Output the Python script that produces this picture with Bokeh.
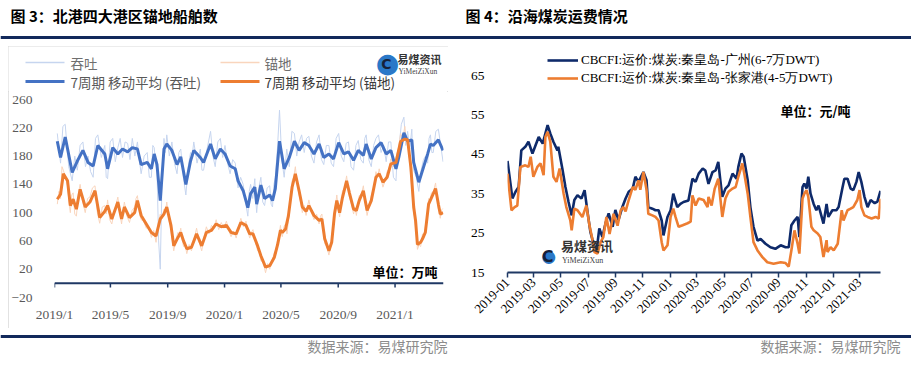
import math
import numpy as np
import pandas as pd
from bokeh.plotting import figure
from bokeh.layouts import column, row
from bokeh.models import Range1d, FixedTicker, Span, Legend, LegendItem, Label, Spacer
from bokeh.core.properties import value
from bokeh.embed import file_html
from bokeh.resources import INLINE

# ---------------- data: chart 3 (days since 2019-01-01) ----------------
tt_ma_day = [6,13,23,38,49,61,72,83,93,108,114,125,136,146,157,167,178,186,199,208,
             214,220,227,235,241,252,263,271,282,292,299,313,320,335,345,356,366,377,388,394,
             405,415,421,430,434,443,451,462,468,474,483,493,504,515,525,536,546,557,568,578,
             589,599,610,621,631,642,652,663,669,680,690,701,712,722,733,739,750,758,767,771,
             782,792,801,807,813,824,834]
tt_ma = [201,178,207,157,173,188,171,166,195,183,162,192,183,190,186,192,190,168,171,162,
         183,168,117,190,197,188,168,179,140,173,188,178,171,197,176,190,183,166,162,145,
         131,107,127,136,112,139,120,125,117,134,201,162,178,201,188,199,195,183,197,178,
         183,176,199,183,186,174,188,181,197,176,192,199,183,188,162,178,213,201,203,171,
         143,164,183,197,195,203,188]
tt_raw_at = [212,170,225,145,160,200,180,150,210,195,148,205,192,178,198,205,200,155,185,150,
             192,160,20,205,210,200,155,190,125,185,200,190,160,215,165,205,195,155,170,135,
             140,95,140,148,100,150,110,138,108,150,245,150,165,212,200,185,208,170,210,168,
             195,165,212,172,200,160,202,170,210,165,205,185,172,200,145,190,235,215,218,160,
             130,175,170,210,185,218,172]
tt_raw_mid = [190,222,165,180,195,165,158,205,178,150,200,172,205,200,175,180,175,180,150,195,
              170,60,150,185,180,170,185,150,165,180,170,160,190,180,200,178,170,175,150,150,
              115,130,120,118,135,115,135,112,140,190,175,190,215,180,210,205,180,200,175,195,
              170,205,180,198,165,195,175,205,175,195,210,195,200,150,185,225,195,190,180,150,
              160,180,205,185,215,195]

md_ma_day = [6,13,19,28,34,40,47,55,66,76,87,97,108,114,123,136,144,150,161,172,
             178,186,197,208,218,227,235,241,250,256,265,271,277,284,294,305,316,326,337,347,
             358,369,379,390,400,411,419,426,436,443,453,462,472,479,485,489,496,502,510,517,
             525,532,540,546,557,568,574,580,589,595,601,606,612,618,627,633,642,648,654,663,
             671,680,690,697,705,714,722,733,743,752,758,765,771,775,779,786,790,796,803,809,
             818,824,828,834]
md_ma = [119,126,155,145,110,119,105,133,108,115,131,93,102,110,91,115,91,108,93,100,
         117,96,84,72,67,91,98,108,82,53,65,72,60,49,51,70,53,72,75,84,
         80,82,72,70,86,82,70,70,53,39,23,25,37,55,75,72,77,95,136,155,
         131,108,102,110,96,89,91,63,46,58,98,117,100,121,145,128,105,103,117,131,
         103,117,150,155,143,150,169,171,201,204,203,164,108,89,55,58,63,72,112,121,
         134,112,98,100]
md_raw_at = [112,120,160,138,100,128,95,140,100,122,138,85,110,118,84,122,84,115,86,108,
             124,90,78,65,58,98,105,115,75,46,72,78,52,42,46,78,46,80,82,90,
             86,88,66,64,92,88,64,76,46,32,15,20,44,62,82,66,84,88,145,165,
             125,100,96,118,90,84,98,56,40,64,105,125,94,130,152,122,98,96,124,138,
             96,124,158,162,136,158,176,178,212,222,196,150,98,80,48,52,70,80,120,128,
             142,105,92,106]
md_raw_mid = [130,165,150,115,125,98,125,115,120,135,100,108,98,90,105,100,102,95,103,120,
              100,88,80,75,85,92,100,90,60,62,68,62,55,55,62,58,65,70,78,76,
              78,75,74,80,80,74,72,60,45,30,28,32,48,68,70,80,70,118,150,140,
              115,110,108,100,98,95,72,52,50,80,112,105,112,135,135,112,108,110,125,115,
              110,135,150,148,145,162,165,190,205,200,180,125,95,70,54,62,65,95,115,130,
              122,102,104]

left_series_names = ["吞吐", "锚地", "7周期 移动平均 (吞吐)", "7周期 移动平均 (锚地)"]
left_tick_dates = ["2019-01-01", "2019-05-01", "2019-09-01", "2020-01-01",
                   "2020-05-01", "2020-09-01", "2021-01-01"]
left_tick_labels = ["2019/1", "2019/5", "2019/9", "2020/1", "2020/5", "2020/9", "2021/1"]
left_y_ticks = [-20, 20, 60, 100, 140, 180, 220, 260]
left_x_span = ["2019-01-01", "2021-04-15"]

# ---------------- data: chart 4 ----------------
gz_day = [0,11,18,25,31,40,47,56,63,70,79,90,96,103,112,114,123,130,137,144,
          150,157,166,173,180,186,193,200,206,213,220,227,236,242,249,258,265,272,281,287,
          294,305,312,316,325,332,339,346,350,359,366,372,381,388,395,406,415,422,429,438,
          444,451,460,467,473,478,482,489,496,505,514,518,525,530,539,545,552,561,568,579,
          590,601,613,624,631,637,644,651,655,662,666,671,675,680,687,693,698,705,709,716,
          720,729,738,743,752,756,763,770,776,783,788,794,801,808,815,824,830,837]
gz_val = [43.3,33.8,35.5,36.7,46,46.9,48.2,45.2,47.3,49.4,47.7,52.4,50.3,48.2,46,46.9,41.4,36.7,32.9,29.5,
          33.4,34.6,33.8,35.9,30,25.3,22.3,20.6,26.2,24,27.5,30,26.6,30.9,28.3,31.7,33.8,35.5,36.3,39.3,
          38,40.5,38.4,31.6,31.2,30.8,30.8,28.2,24.4,29.1,30.8,35,31.6,32.4,32.9,33.3,38.8,38,40.1,41.4,
          40.9,37.5,40.5,40.9,43.1,38,34.2,36.3,37.1,40.1,38.8,41.8,45.2,44.4,38.4,31.6,26.6,23.1,23.5,22.3,
          21.4,21.0,21.9,21.4,21.4,27,28.2,29.1,24,36.7,37.6,36.3,39.3,35,32.4,30.8,32,29.1,27.4,32.4,
          29.1,30.8,30.8,31.6,36.7,38.8,38.8,36.3,35.9,38,40.5,38,34.2,31.6,33.4,32.6,33,35.7]
zjg_day = [0,9,16,22,29,40,47,52,58,67,74,81,85,90,96,103,110,117,126,132,
           141,144,150,157,168,177,184,191,195,202,209,215,222,229,238,247,254,260,265,272,
           281,287,294,298,305,312,316,325,332,339,346,350,359,366,372,377,384,393,404,411,
           415,422,429,440,449,451,458,465,473,478,482,489,496,505,512,518,527,532,539,545,
           552,561,572,583,597,613,624,631,637,644,651,655,662,666,671,675,682,687,696,702,
           709,716,718,725,732,741,750,754,763,770,776,785,790,794,801,808,817,826,833,837]
zjg_val = [40.1,30.8,31.6,32,41.8,42.2,41.8,44.4,39.3,41.8,42.7,39.7,49.4,50.7,48.2,39.3,38,41.4,35,31.6,
           28.2,25.7,31.2,30.8,29.1,32,26.9,23.2,20.2,19.8,22.7,24,29.1,24.8,29.9,26.9,30.8,31.6,30.5,33.4,
           36.7,36,38.4,36,40.5,36,29.9,29.5,29.1,28.2,22.7,20.6,21.9,29.1,31.2,29.1,26.6,27,27.5,27.9,
           34.6,32,33.8,33.4,31.6,34.2,32,36.3,38.8,33.4,29.1,33.8,35.5,36.3,36.7,39.3,42.7,39.7,35,29.1,
           22.7,20.6,18.9,17.6,17.2,17.6,17.4,16.5,20.6,25.7,22.3,19.8,33.8,35,35.9,34.2,26.6,25.7,24.9,24,
           18.9,23.2,20.2,21.4,20.6,22.3,30.8,28.2,30.8,31.2,31.6,33.4,35.9,31.6,29.5,29.1,28.7,29.1,28.7,33.7]

right_series_names = ["CBCFI:运价:煤炭:秦皇岛-广州(6-7万DWT)", "CBCFI:运价:煤炭:秦皇岛-张家港(4-5万DWT)"]
right_tick_dates = ["2019-01-01", "2019-03-01", "2019-05-01", "2019-07-01", "2019-09-01",
                    "2019-11-01", "2020-01-01", "2020-03-01", "2020-05-01", "2020-07-01",
                    "2020-09-01", "2020-11-01", "2021-01-01", "2021-03-01"]
right_tick_labels = [d[:7] for d in right_tick_dates]
right_y_ticks = [15, 25, 35, 45, 55, 65]
right_x_span = ["2019-01-01", "2021-04-17"]
right_y_span = [15, 71.35]

# ---------------- helpers ----------------
BASE = pd.Timestamp("2019-01-01")


def to_dt(days):
    return BASE + pd.to_timedelta(np.asarray(days, dtype=float), unit="D")


def to_ms(dates):
    return [pd.Timestamp(d).value / 1e6 for d in dates]


def interleave(days, at, mid):
    xs, ys = [], []
    for i in range(len(days)):
        xs.append(days[i]); ys.append(at[i])
        if i < len(days) - 1:
            xs.append((days[i] + days[i + 1]) / 2.0); ys.append(mid[i])
    return xs, ys


RULE = "#12295b"
AXIS_NAVY = "#1f3864"
SERIF = "Liberation Serif"
CJK = "Noto Sans CJK SC"
C_RAW_B, C_RAW_O, C_MA_B, C_MA_O = "#c6d5ef", "#f9d5bd", "#4472c4", "#ed7d31"


def clean(p):
    p.xgrid.visible = False
    p.ygrid.visible = False
    p.outline_line_color = None
    p.background_fill_color = "white"
    p.border_fill_color = "white"


def blank(w, h):
    p = figure(width=w, height=h, x_range=Range1d(0, w), y_range=Range1d(0, h),
               x_axis_location=None, y_axis_location=None, min_border=0,
               toolbar_location=None, output_backend="svg", frame_align=False)
    clean(p)
    return p


def add_logo_labels(p, x, y, icon_px, text_px, sub_px):
    kw = dict(x_units="screen", y_units="screen")
    p.add_layout(Label(x=x, y=y, text="●", text_color="#2a78c8",
                       text_font_size=f"{icon_px}px", text_align="center",
                       text_baseline="middle", **kw))
    p.add_layout(Label(x=x - 1, y=y - 1, text="C", text_color="#16213a",
                       text_font="DejaVu Sans", text_font_style="bold",
                       text_font_size=f"{int(icon_px * 0.55)}px",
                       text_align="center", text_baseline="middle", **kw))
    p.add_layout(Label(x=x + icon_px * 0.42, y=y + icon_px * 0.33, text="易煤资讯",
                       text_color="#333333", text_font=CJK, text_font_style="bold",
                       text_font_size=f"{text_px}px", text_baseline="middle", **kw))
    p.add_layout(Label(x=x + icon_px * 0.45, y=y - icon_px * 0.17, text="YiMeiZiXun",
                       text_color="#444444", text_font=SERIF, text_font_size=f"{sub_px}px",
                       text_baseline="middle", **kw))


# ---------------- header (y 0..46) ----------------
ph = blank(911, 46)
ph.text(x=[10, 465], y=[31, 31], text=["图 3：北港四大港区锚地船舶数", "图 4：沿海煤炭运费情况"],
        text_font=value(CJK), text_font_style="bold", text_font_size="15px",
        text_baseline="middle", text_color="#000000")
ph.segment(x0=[0], y0=[9], x1=[911], y1=[9], line_color=RULE, line_width=3)

# ---------------- left legend strip (x 8..448, y 46..91) ----------------
pk = blank(440, 45)
pk.segment(x0=[17, 212], y0=[29, 29], x1=[56, 251], y1=[29, 29],
           line_color=[C_RAW_B, C_RAW_O], line_width=1.3)
pk.segment(x0=[17, 212], y0=[10, 10], x1=[56, 251], y1=[10, 10],
           line_color=[C_MA_B, C_MA_O], line_width=3)
pk.text(x=[62, 256, 62, 256], y=[29, 29, 10, 10], text=left_series_names,
        text_font=value(CJK), text_font_size="13.5px", text_baseline="middle",
        text_color=["#6f6f6f", "#6f6f6f", "#595959", "#3a3a3a"])
pk.text(x=[379], y=[29], text=["●"], text_font=value("DejaVu Sans"), text_font_size="27px",
        text_align="center", text_baseline="middle", text_color="#2a78c8")
pk.text(x=[378], y=[28], text=["C"], text_font=value("DejaVu Sans"), text_font_style="bold",
        text_font_size="14px", text_align="center", text_baseline="middle", text_color="#16213a")
pk.text(x=[389], y=[33], text=["易煤资讯"], text_font=value(CJK), text_font_style="bold",
        text_font_size="11px", text_baseline="middle", text_color="#333333")
pk.text(x=[390], y=[20], text=["YiMeiZiXun"], text_font=value(SERIF),
        text_font_size="7.5px", text_baseline="middle", text_color="#444444")

# ---------------- left chart (x 8..448, y 91..328) ----------------
lx0, lx1 = to_ms(left_x_span)
pl = figure(width=440, height=237, x_axis_type="datetime",
            x_range=Range1d(lx0, lx1), y_range=Range1d(-20, 260),
            min_border_left=41, min_border_right=5, min_border_top=8, min_border_bottom=31,
            toolbar_location=None, output_backend="svg", frame_align=False)
clean(pl)

bx, by = interleave(tt_ma_day, tt_raw_at, tt_raw_mid)
ox, oy = interleave(md_ma_day, md_raw_at, md_raw_mid)
pl.line(to_dt(bx), by, line_color=C_RAW_B, line_width=1)
pl.line(to_dt(ox), oy, line_color=C_RAW_O, line_width=1)
pl.line(to_dt(tt_ma_day), tt_ma, line_color=C_MA_B, line_width=3)
pl.line(to_dt(md_ma_day), md_ma, line_color=C_MA_O, line_width=3)

left_tick_ms = to_ms(left_tick_dates)
left_tick_dt = pd.to_datetime(left_tick_dates)
pl.add_layout(Span(location=0, dimension="width", line_color=AXIS_NAVY, line_width=2))
pl.segment(x0=left_tick_dt, y0=[0] * len(left_tick_dt), x1=left_tick_dt,
           y1=[-6] * len(left_tick_dt), line_color=AXIS_NAVY, line_width=1.5)

pl.xaxis.ticker = FixedTicker(ticks=left_tick_ms)
pl.xaxis.major_label_overrides = {m: t for m, t in zip(left_tick_ms, left_tick_labels)}
pl.xaxis.axis_line_color = None
pl.xaxis.major_tick_line_color = None
pl.xaxis.minor_tick_line_color = None
pl.xaxis.major_label_standoff = 3
pl.xaxis.major_label_text_font = SERIF
pl.xaxis.major_label_text_font_size = "13.5px"
pl.xaxis.major_label_text_color = "#595959"

pl.yaxis.ticker = FixedTicker(ticks=left_y_ticks)
pl.yaxis.axis_line_color = None
pl.yaxis.major_tick_line_color = None
pl.yaxis.minor_tick_line_color = None
pl.yaxis.major_label_standoff = 16
pl.yaxis.major_label_text_font = SERIF
pl.yaxis.major_label_text_font_size = "13.5px"
pl.yaxis.major_label_text_color = "#595959"

pl.add_layout(Label(x=318, y=26, x_units="screen", y_units="screen", text="单位：万吨",
                    text_font=CJK, text_font_style="bold", text_font_size="13px",
                    text_color="#000000", text_baseline="middle"))

left_col = column(pk, pl, styles={"outline": "1.5px solid #d9d9d9", "outline-offset": "-1.5px"})

# ---------------- right chart (x 448..911, y 46..328) ----------------
rx0, rx1 = to_ms(right_x_span)
pr = figure(width=463, height=282, x_axis_type="datetime",
            x_range=Range1d(rx0, rx1), y_range=Range1d(*right_y_span),
            min_border_left=59, min_border_right=31, min_border_top=4, min_border_bottom=56,
            toolbar_location=None, output_backend="svg", frame_align=False)
clean(pr)
r_gz = pr.line(to_dt(gz_day), gz_val, line_color="#0e2a6a", line_width=2.6)
r_zjg = pr.line(to_dt(zjg_day), zjg_val, line_color="#ed7d31", line_width=2.6)

right_tick_ms = to_ms(right_tick_dates)
pr.xaxis.ticker = FixedTicker(ticks=right_tick_ms)
pr.xaxis.major_label_overrides = {m: t for m, t in zip(right_tick_ms, right_tick_labels)}
pr.xaxis.axis_line_color = AXIS_NAVY
pr.xaxis.axis_line_width = 2
pr.xaxis.major_tick_line_color = AXIS_NAVY
pr.xaxis.major_tick_line_width = 1.5
pr.xaxis.major_tick_out = 5
pr.xaxis.major_tick_in = 0
pr.xaxis.minor_tick_line_color = None
pr.xaxis.major_label_orientation = math.pi / 4
pr.xaxis.major_label_standoff = 3
pr.xaxis.major_label_text_font = SERIF
pr.xaxis.major_label_text_font_size = "13px"
pr.xaxis.major_label_text_color = "#000000"

pr.yaxis.ticker = FixedTicker(ticks=right_y_ticks)
pr.yaxis.axis_line_color = None
pr.yaxis.major_tick_line_color = None
pr.yaxis.minor_tick_line_color = None
pr.yaxis.major_label_standoff = 17
pr.yaxis.major_label_text_font = SERIF
pr.yaxis.major_label_text_font_size = "13.5px"
pr.yaxis.major_label_text_color = "#000000"

leg_r = Legend(items=[LegendItem(label=right_series_names[0], renderers=[r_gz]),
                      LegendItem(label=right_series_names[1], renderers=[r_zjg])],
               location=(40, 185), orientation="vertical",
               glyph_width=31, glyph_height=12, label_standoff=3,
               label_height=18, spacing=0, padding=0, margin=0,
               background_fill_alpha=0, border_line_color=None,
               label_text_font=SERIF, label_text_font_size="13px",
               label_text_color="#000000")
pr.add_layout(leg_r)
pr.add_layout(Label(x=273, y=162, x_units="screen", y_units="screen", text="单位：元/吨",
                    text_font=CJK, text_font_style="bold", text_font_size="13px",
                    text_color="#000000", text_baseline="middle"))
add_logo_labels(pr, 41, 17, 30, 13, 8)

# ---------------- footer (y 328..365) ----------------
pf = blank(911, 37)
pf.segment(x0=[0], y0=[29], x1=[911], y1=[29], line_color=RULE, line_width=3)
pf.text(x=[447, 900], y=[19.5, 19.5], text=["数据来源：易煤研究院", "数据来源：易煤研究院"],
        text_font=value(CJK), text_font_size="14px", text_align="right",
        text_baseline="middle", text_color="#8c8c8c")

layout = column(ph, row(Spacer(width=8, height=282), left_col, pr), pf)
open("out.html", "w").write(file_html(layout, INLINE))
